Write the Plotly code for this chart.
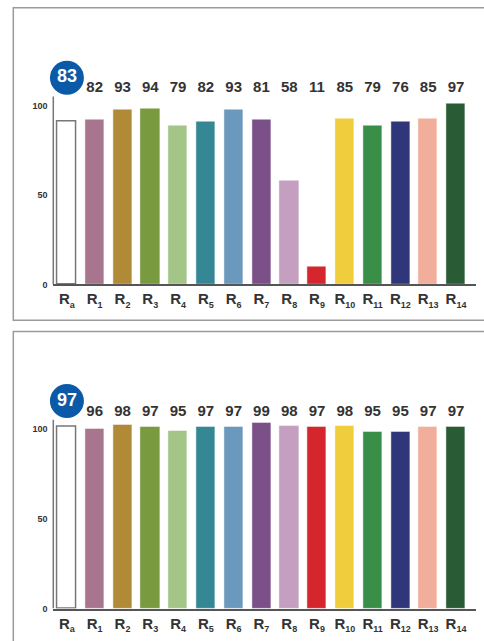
import plotly.graph_objects as go

# categories and values
subs = ["a"] + [str(i) for i in range(1, 15)]
labels = ["R<sub><span style='font-size:9px'>%s</span></sub>" % s for s in subs]
bar_colors = ["#ffffff", "#a8758f", "#b08a36", "#7a9a40", "#a3c587", "#368796", "#6b98bd",
              "#7b5089", "#c49fc0", "#d4262c", "#f0cd3d", "#398e48", "#2f377a", "#f0ae9b", "#295b35"]

# top panel
top_bars = [91, 92.2, 97.8, 98.3, 88.9, 91.1, 97.8, 92.2, 57.9, 9.7, 92.8, 88.9, 91.1, 92.8, 101]
top_scores = [83, 82, 93, 94, 79, 82, 93, 81, 58, 11, 85, 79, 76, 85, 97]

# bottom panel
bot_bars = [100.9, 99.8, 102, 100.9, 98.7, 100.9, 100.9, 103.1, 101.5, 100.9, 101.5, 98.2, 98.2, 100.9, 100.9]
bot_scores = [97, 96, 98, 97, 95, 97, 97, 99, 98, 97, 98, 95, 95, 97, 97]

W, H = 484, 641
FONT = "Arial, Liberation Sans, sans-serif"
TXT = "#333333"
YMAX = 125   # room above the bars for the score row and badge

fig = go.Figure()

xdom = [53.3 / W, 476 / W]
panels = [("x", "y", top_bars, top_scores), ("x2", "y2", bot_bars, bot_scores)]
for xa, ya, bars, scores in panels:
    xs = list(range(len(labels)))
    fig.add_trace(go.Bar(
        x=xs, y=bars, xaxis=xa, yaxis=ya, width=0.69,
        marker=dict(color=bar_colors,
                    line=dict(color=["#777777"] + ["rgba(255,255,255,0.6)"] * 14,
                              width=[1.5] + [0.8] * 14)),
        showlegend=False, hoverinfo="skip"))
    # score labels above the bars
    fig.add_trace(go.Scatter(
        x=xs[1:], y=[109.4] * 14, xaxis=xa, yaxis=ya, mode="text",
        text=[str(s) for s in scores[1:]], cliponaxis=False,
        textfont=dict(family=FONT, size=15, color=TXT, weight="bold"),
        showlegend=False, hoverinfo="skip"))
    # circle badge for Ra
    fig.add_trace(go.Scatter(
        x=[0], y=[115.4], xaxis=xa, yaxis=ya, mode="markers+text",
        marker=dict(size=34, color="#0a5aa8", line=dict(width=0)), text=[str(scores[0])],
        textposition="middle center", cliponaxis=False,
        textfont=dict(family=FONT, size=18, color="white", weight="bold"),
        showlegend=False, hoverinfo="skip"))
    # y axis line only up to ~105
    fig.add_shape(type="line", xref="paper", yref=ya, x0=xdom[0], x1=xdom[0], y0=0, y1=105,
                  line=dict(color="#777777", width=1.5))

xrange_ = [-0.49, 14.72]

def yd(top_px, bot_px):
    return [1 - bot_px / H, 1 - top_px / H]

xaxis_style = dict(domain=xdom, range=xrange_, tickmode="array",
                   tickvals=list(range(15)), ticktext=labels, showgrid=False,
                   zeroline=False, showline=True, linecolor="#555555", linewidth=2,
                   ticks="", tickfont=dict(family=FONT, size=15, color=TXT, weight="bold"))
yaxis_style = dict(range=[0, YMAX], tickvals=[0, 50, 100], showgrid=False,
                   zeroline=False, showline=False,
                   ticks="outside", ticklen=3, tickcolor="rgba(0,0,0,0)",
                   tickfont=dict(family=FONT, size=9, color=TXT, weight="bold"))

fig.update_layout(
    width=W, height=H, margin=dict(l=0, r=0, t=0, b=0),
    paper_bgcolor="white", plot_bgcolor="rgba(0,0,0,0)", bargap=0,
    xaxis=dict(anchor="y", **xaxis_style),
    yaxis=dict(anchor="x", domain=yd(286.7 - YMAX * 1.805, 286.7), **yaxis_style),
    xaxis2=dict(anchor="y2", **xaxis_style),
    yaxis2=dict(anchor="x2", domain=yd(613.3 - YMAX * 1.812, 613.3), **yaxis_style),
)

# panel frames
for y0, y1 in [(7.7, 322.7), (334, 660)]:
    fig.add_shape(type="rect", xref="paper", yref="paper",
                  x0=13.3 / W, x1=500 / W, y0=1 - y1 / H, y1=1 - y0 / H,
                  line=dict(color="#9a9a9a", width=1.5), fillcolor="rgba(0,0,0,0)")

fig.write_html("out.html", config={"displayModeBar": False},
               post_script="document.body.style.margin='0';document.body.style.overflow='hidden';")
